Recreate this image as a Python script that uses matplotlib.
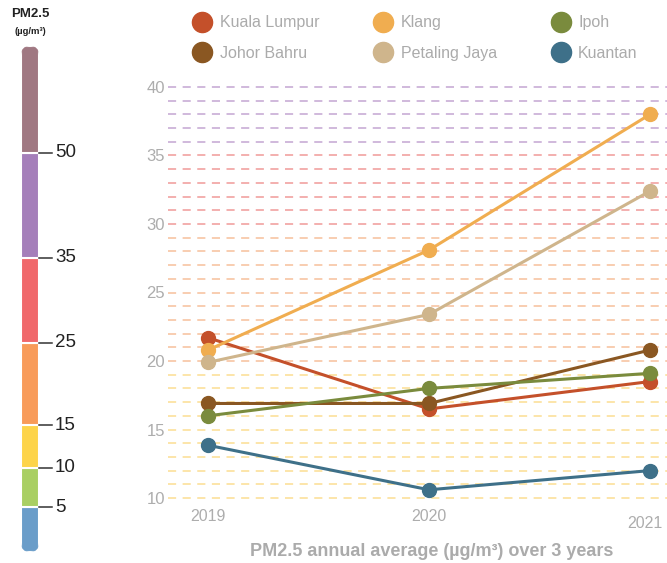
import matplotlib.pyplot as plt
import numpy as np
from matplotlib.patches import FancyBboxPatch
from matplotlib.lines import Line2D
import matplotlib.transforms as mtransforms

plt.rcParams['font.family'] = ['Liberation Sans', 'DejaVu Sans']

# data
years = [2019, 2020, 2021]
cities = ['Kuala Lumpur', 'Johor Bahru', 'Klang', 'Petaling Jaya', 'Ipoh', 'Kuantan']
values = {
    'Kuala Lumpur': [21.7, 16.5, 18.5],
    'Johor Bahru': [16.9, 16.9, 20.8],
    'Klang': [20.8, 28.1, 38.0],
    'Petaling Jaya': [19.9, 23.4, 32.4],
    'Ipoh': [16.0, 18.0, 19.1],
    'Kuantan': [13.85, 10.6, 12.0],
}
city_colors = {
    'Kuala Lumpur': '#C4502A',
    'Johor Bahru': '#8A5722',
    'Klang': '#F0AD50',
    'Petaling Jaya': '#CFB58C',
    'Ipoh': '#7A8B3D',
    'Kuantan': '#3E7089',
}
yticks = [10, 15, 20, 25, 30, 35, 40]
grid_levels = list(range(10, 41))

# PM2.5 scale bands (bottom to top)
band_labels = ['5', '10', '15', '25', '35', '50', None]
band_colors = ['#6A9DC9', '#A9CF63', '#FDD44A', '#F89B59', '#F0686B', '#A57FBA', '#A07882']
band_span = [45, 39.5, 42.5, 82.5, 85, 105, 106.5]  # drawn height of each band


def grid_color(v):
    if v < 20:
        return '#FCE3A2'
    if v < 30:
        return '#F8C9AA'
    if v <= 35:
        return '#F2A9A8'
    return '#CDB3D9'


fig = plt.figure(figsize=(6.67, 5.63), dpi=100)
W, H = 667, 563

# main chart
ax = fig.add_axes([168 / W, 1 - 504.85 / H, 1 - 168 / W, (504.85 - 80.15) / H])
ax.set_xlim(2019 - 40 / 221, 2021 + 17 / 221)
ax.set_ylim(9.5, 40.5)
for v in grid_levels:
    ax.axhline(v, color=grid_color(v), lw=1.3, ls=(0, (4.5, 3.6)), zorder=1)

for c in cities:
    ax.plot(years, values[c], color=city_colors[c], lw=2.2, marker='o', ms=10,
            solid_capstyle='round', zorder=3)

for s in ax.spines.values():
    s.set_visible(False)
ax.set_yticks(yticks)
ax.set_xticks(years)
ax.set_xticklabels([str(y) for y in years])
ax.tick_params(length=0, labelsize=12, labelcolor='#ADADAD')
ax.tick_params(axis='x', labelsize=11.5)
ax.tick_params(axis='y', pad=2)
ax.tick_params(axis='x', pad=3)
# 2021 label sits a little lower (and left) in the original
lbl = ax.get_xticklabels()[-1]
lbl.set_transform(lbl.get_transform() + mtransforms.ScaledTranslation(-5 / 100, -7 / 100, fig.dpi_scale_trans))

fig.text(432 / W, 1 - 551 / H, 'PM2.5 annual average (µg/m³) over 3 years', ha='center', va='center',
         fontsize=13, fontweight='bold', color='#ABABAB')

# legend
handles = [Line2D([], [], ls='none', marker='o', ms=14.5, color=city_colors[c]) for c in cities]
leg = fig.legend(handles, cities, ncol=3, loc='center left', bbox_to_anchor=(194 / W, 1 - 38 / H),
                 frameon=False, fontsize=11.5, labelcolor='#ABABAB', handletextpad=0.6,
                 columnspacing=3.5, labelspacing=0.95, handlelength=1.0, borderpad=0, borderaxespad=0)

# PM2.5 colour scale
cax = fig.add_axes([21 / W, 1 - 552 / H, 18 / W, 506 / H])
total = sum(band_span)
cax.set_xlim(0, 18)
cax.set_ylim(0, total)
cax.axis('off')
clip = FancyBboxPatch((0, 0), 18, total, boxstyle='round,pad=0,rounding_size=9',
                      transform=cax.transData, facecolor='none', edgecolor='none')
cax.add_patch(clip)
bottoms = np.concatenate([[0], np.cumsum(band_span)[:-1]])
bars = cax.bar(9, band_span, bottom=bottoms, width=18, color=band_colors,
               edgecolor='white', linewidth=1.5)
for b in bars:
    b.set_clip_path(clip)
for lab, top in zip(band_labels, np.cumsum(band_span)):
    if lab is None:
        continue
    cax.plot([18, 31], [top, top], color='#333333', lw=1.1, clip_on=False)
    cax.text(34, top, lab, ha='left', va='center', fontsize=13.5, color='#222222', clip_on=False)

fig.text(30 / W, 1 - 14 / H, 'PM2.5', ha='center', va='center', fontsize=9.5, fontweight='bold', color='#222222')
fig.text(30 / W, 1 - 32 / H, '(µg/m³)', ha='center', va='center', fontsize=6.8, fontweight='bold', color='#222222')

fig.savefig('out.png', dpi=100)
